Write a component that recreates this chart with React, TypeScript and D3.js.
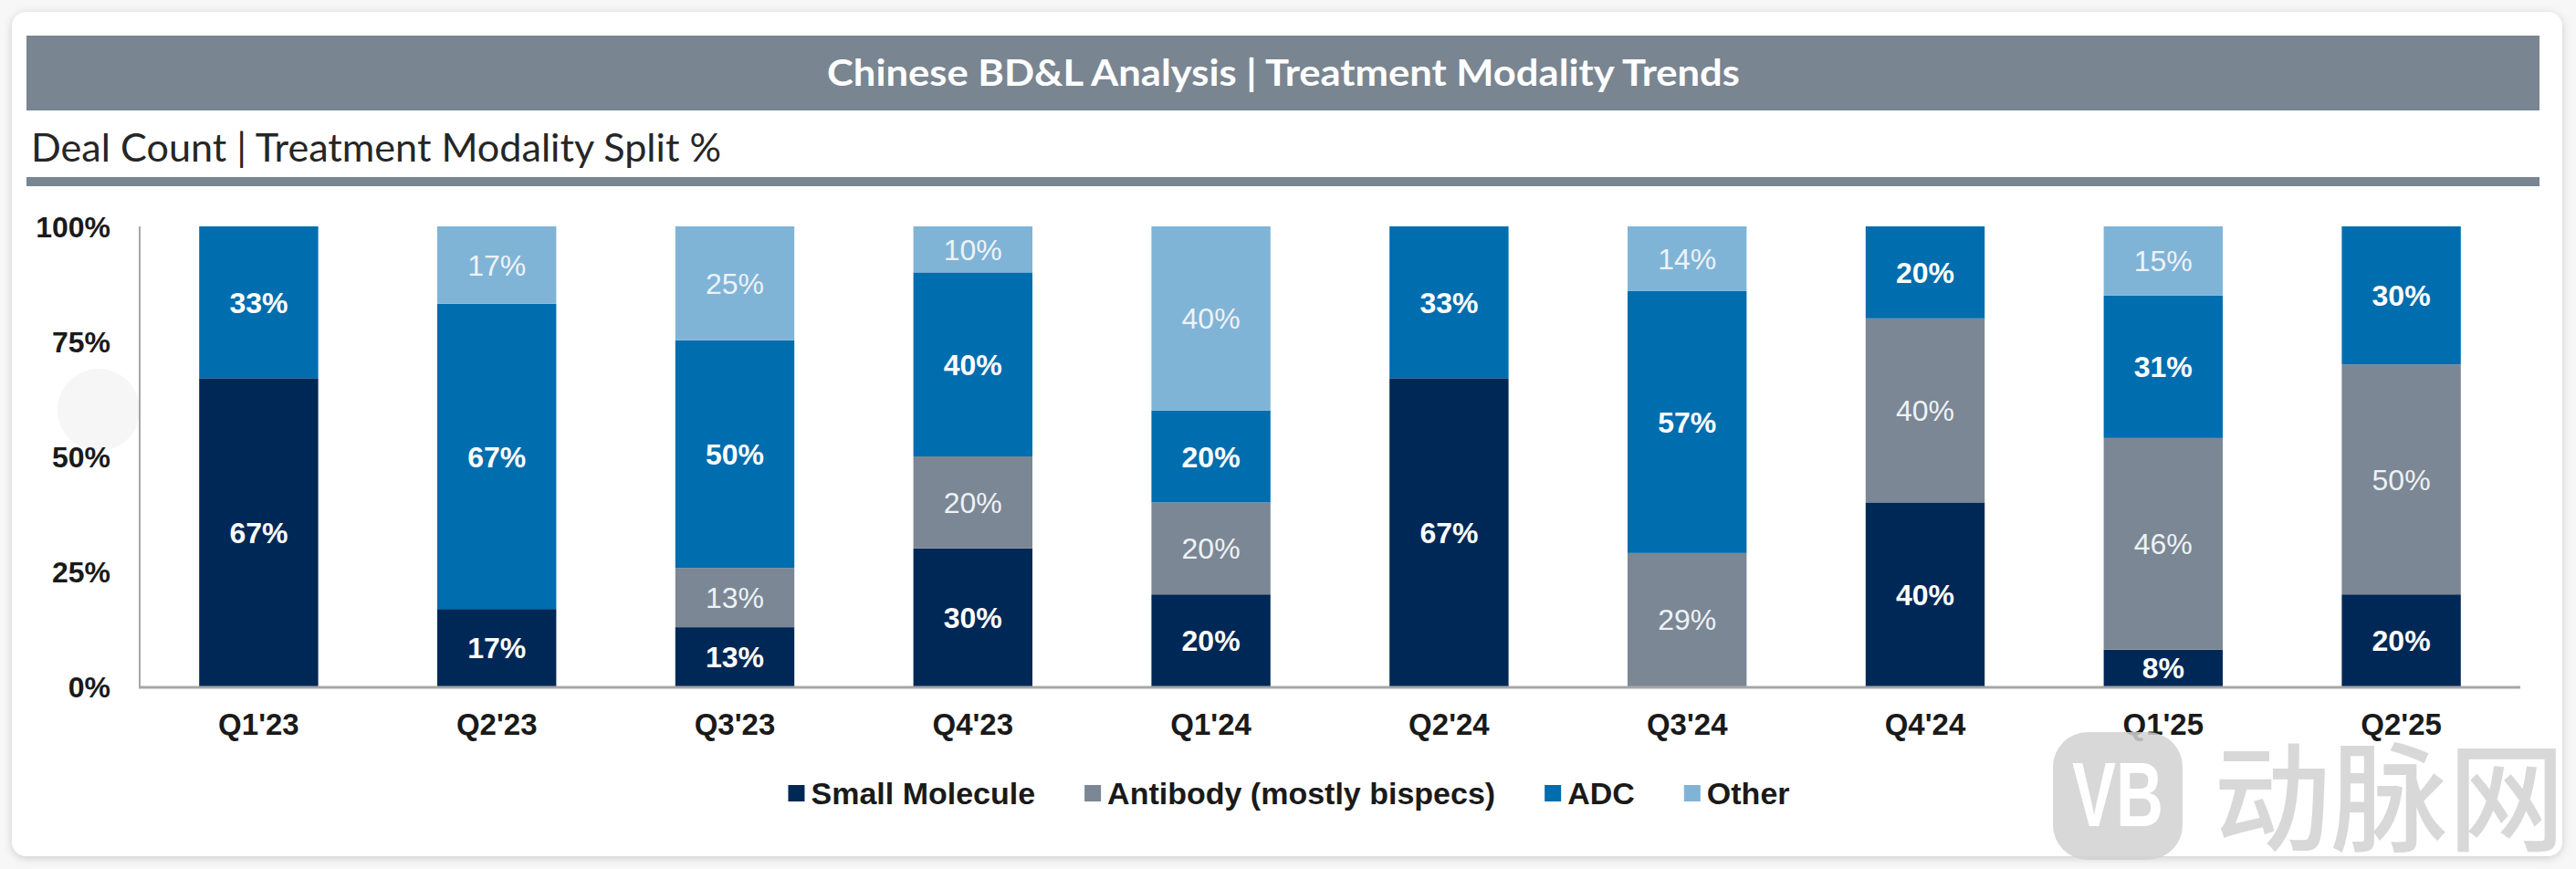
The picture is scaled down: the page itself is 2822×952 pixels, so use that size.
import React, { useEffect, useRef } from 'react';
import * as d3 from 'd3';

const quarters = ["Q1'23", "Q2'23", "Q3'23", "Q4'23", "Q1'24", "Q2'24", "Q3'24", "Q4'24", "Q1'25", "Q2'25"];
const smallMolecule = [67, 17, 13, 30, 20, 67, 0, 40, 8, 20];
const antibody = [0, 0, 13, 20, 20, 0, 29, 40, 46, 50];
const adc = [33, 67, 50, 40, 20, 33, 57, 20, 31, 30];
const other = [0, 17, 25, 10, 40, 0, 14, 0, 15, 0];

const seriesKeys = ['sm', 'ab', 'adc', 'other'];
const seriesNames = ['Small Molecule', 'Antibody (mostly bispecs)', 'ADC', 'Other'];
const seriesColors = ['#002856', '#7b8794', '#006dae', '#80b4d6'];
const labelBold = [true, false, true, false];
const yTicks = [0, 0.25, 0.5, 0.75, 1];

const W = 2822;
const H = 952;
const ARIAL = '"Liberation Sans", Arial, sans-serif';
const LATO = 'Lato, "Open Sans", sans-serif';

export default function App() {
  const svgRef = useRef<SVGSVGElement>(null);

  useEffect(() => {
    if (!svgRef.current) return;
    const svg = d3.select(svgRef.current);
    svg.selectAll('*').remove();

    const defs = svg.append('defs');
    const f = defs.append('filter').attr('id', 'shadow').attr('x', '-5%').attr('y', '-5%').attr('width', '110%').attr('height', '115%');
    f.append('feDropShadow').attr('dx', 0).attr('dy', 2).attr('stdDeviation', 5).attr('flood-color', '#000').attr('flood-opacity', 0.18);

    // page + card
    svg.append('rect').attr('width', W).attr('height', H).attr('fill', '#f7f7f7');
    svg.append('rect').attr('x', 13).attr('y', 13).attr('width', 2794).attr('height', 925)
      .attr('rx', 16).attr('fill', '#fff').attr('filter', 'url(#shadow)');

    // faint artifact circle
    svg.append('circle').attr('cx', 108).attr('cy', 449).attr('r', 45).attr('fill', '#f6f6f6');

    // header bar
    svg.append('rect').attr('x', 29).attr('y', 39).attr('width', 2753).attr('height', 82).attr('fill', '#798591');
    svg.append('text').attr('x', 1406).attr('y', 94).attr('text-anchor', 'middle')
      .attr('font-family', LATO).attr('font-weight', 700).attr('font-size', 41).attr('fill', '#fff')
      .attr('textLength', 1000).attr('lengthAdjust', 'spacingAndGlyphs')
      .text('Chinese BD&L Analysis | Treatment Modality Trends');

    svg.append('text').attr('x', 34).attr('y', 177)
      .attr('font-family', LATO).attr('font-size', 42).attr('fill', '#262626')
      .attr('textLength', 756).attr('lengthAdjust', 'spacingAndGlyphs')
      .text('Deal Count | Treatment Modality Split %');
    svg.append('rect').attr('x', 29).attr('y', 194).attr('width', 2753).attr('height', 10).attr('fill', '#798591');

    // chart
    const x = d3.scaleBand<string>().domain(quarters).range([153, 2761]).paddingInner(0.5).paddingOuter(0.25);
    const y = d3.scaleLinear().domain([0, 1]).range([752, 248]);

    const rows = quarters.map((q, i) => ({
      q, sm: smallMolecule[i], ab: antibody[i], adc: adc[i], other: other[i],
    }));
    const stack = d3.stack<any>().keys(seriesKeys).offset(d3.stackOffsetExpand);
    const stacked = stack(rows);

    const g = svg.append('g');
    stacked.forEach((layer, si) => {
      const lg = g.append('g');
      lg.selectAll('rect').data(layer).join('rect')
        .attr('x', d => x(d.data.q)!)
        .attr('width', x.bandwidth())
        .attr('y', d => y(d[1]))
        .attr('height', d => y(d[0]) - y(d[1]))
        .attr('fill', seriesColors[si]);
      lg.selectAll('text').data(layer.filter(d => d.data[seriesKeys[si]] > 0)).join('text')
        .attr('x', d => x(d.data.q)! + x.bandwidth() / 2)
        .attr('y', d => (y(d[0]) + y(d[1])) / 2)
        .attr('dy', '0.36em')
        .attr('text-anchor', 'middle')
        .attr('font-family', ARIAL)
        .attr('font-size', 32)
        .attr('font-weight', labelBold[si] ? 700 : 400)
        .attr('fill', labelBold[si] ? '#fff' : '#eef2f6')
        .text(d => `${d.data[seriesKeys[si]]}%`);
    });

    // axes lines
    g.append('line').attr('x1', 153).attr('x2', 153).attr('y1', y(1)).attr('y2', y(0))
      .attr('stroke', '#a6a6a6').attr('stroke-width', 2);
    g.append('line').attr('x1', 152).attr('x2', 2761).attr('y1', y(0) + 1).attr('y2', y(0) + 1)
      .attr('stroke', '#a6a6a6').attr('stroke-width', 3);

    g.selectAll('.ytick').data(yTicks).join('text').attr('class', 'ytick')
      .attr('x', 121).attr('y', d => y(d)).attr('dy', '0.36em').attr('text-anchor', 'end')
      .attr('font-family', ARIAL).attr('font-weight', 700).attr('font-size', 32).attr('fill', '#1a1a1a')
      .text(d => d3.format('.0%')(d));

    g.selectAll('.xtick').data(quarters).join('text').attr('class', 'xtick')
      .attr('x', d => x(d)! + x.bandwidth() / 2).attr('y', 805).attr('text-anchor', 'middle')
      .attr('font-family', ARIAL).attr('font-weight', 700).attr('font-size', 33).attr('fill', '#1a1a1a')
      .text(d => d);

    // legend, centred on the card
    const legend = svg.append('g');
    let cx = 0;
    seriesNames.forEach((name, i) => {
      const item = legend.append('g').attr('transform', `translate(${cx},0)`);
      item.append('rect').attr('x', 0).attr('y', -9).attr('width', 18).attr('height', 18).attr('fill', seriesColors[i]);
      const t = item.append('text').attr('x', 25).attr('y', 0).attr('dy', '0.36em')
        .attr('font-family', ARIAL).attr('font-weight', 700).attr('font-size', 34).attr('fill', '#1a1a1a')
        .text(name);
      const len = (t.node() as SVGTextElement).getComputedTextLength();
      cx += 25 + len + 54;
    });
    const total = cx - 54;
    legend.attr('transform', `translate(${1412 - total / 2},869)`);

    // watermark
    const wm = svg.append('g').attr('opacity', 0.85);
    wm.append('rect').attr('x', 2249).attr('y', 802).attr('width', 142).attr('height', 140).attr('rx', 38).attr('fill', '#d2d2d2');
    wm.append('text').attr('x', 2320).attr('y', 905).attr('text-anchor', 'middle')
      .attr('font-family', ARIAL).attr('font-weight', 700).attr('font-size', 100).attr('fill', '#fff')
      .attr('textLength', 100).attr('lengthAdjust', 'spacingAndGlyphs').text('VB');
    wm.append('text').attr('x', 2425).attr('y', 922)
      .attr('font-family', '"Noto Sans CJK SC", sans-serif').attr('font-weight', 500).attr('font-size', 130).attr('fill', '#d2d2d2')
      .attr('textLength', 385).attr('lengthAdjust', 'spacingAndGlyphs').text('动脉网');
  }, []);

  return (
    <svg ref={svgRef} width={W} height={H}
      style={{ position: 'absolute', left: 0, top: 0, display: 'block' }} />
  );
}
